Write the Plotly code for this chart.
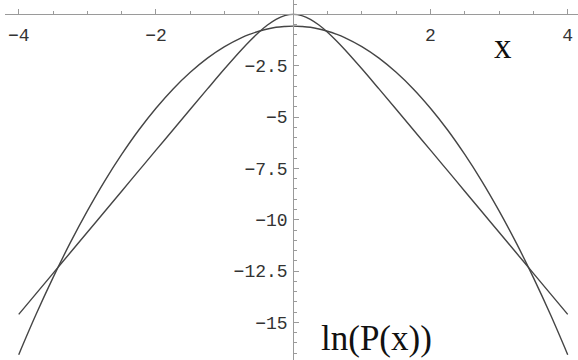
import plotly.graph_objects as go

# sample points along x
x_vals = [-4, -3.75, -3.5, -3.25, -3, -2.75, -2.5, -2.25, -2, -1.75, -1.5, -1.25, -1,
          -0.75, -0.625, -0.5, -0.375, -0.25, -0.125, 0, 0.125, 0.25, 0.375, 0.5, 0.625,
          0.75, 1, 1.25, 1.5, 1.75, 2, 2.25, 2.5, 2.75, 3, 3.25, 3.5, 3.75, 4]

# wide parabola (Gaussian)
gauss_y = [-16.57, -14.63, -12.82, -11.13, -9.57, -8.13, -6.82, -5.63, -4.57, -3.63, -2.82,
           -2.13, -1.57, -1.13, -0.96, -0.82, -0.71, -0.63, -0.59, -0.57, -0.59, -0.63,
           -0.71, -0.82, -0.96, -1.13, -1.57, -2.13, -2.82, -3.63, -4.57, -5.63, -6.82,
           -8.13, -9.57, -11.13, -12.82, -14.63, -16.57]

# narrow peak with straight tails
sech_y = [-14.61, -13.61, -12.61, -11.61, -10.61, -9.61, -8.61, -7.61, -6.61, -5.62, -4.62,
          -3.63, -2.65, -1.71, -1.27, -0.87, -0.52, -0.24, -0.06, 0.0, -0.06, -0.24, -0.52,
          -0.87, -1.27, -1.71, -2.65, -3.63, -4.62, -5.62, -6.61, -7.61, -8.61, -9.61,
          -10.61, -11.61, -12.61, -13.61, -14.61]

x_ticks = [-4, -2, 2, 4]
y_ticks = [-15, -12.5, -10, -7.5, -5, -2.5]

x_range = [-4.2, 4.15]
y_range = [-16.83, 0.70]

curve = dict(color="#454545", width=1.4, shape="spline")
fig = go.Figure()
fig.add_trace(go.Scatter(x=x_vals, y=gauss_y, mode="lines", line=curve))
fig.add_trace(go.Scatter(x=x_vals, y=sech_y, mode="lines", line=curve))

tick_font = dict(family="Liberation Mono", size=18, color="#333333")
axis_col = "#9a9a9a"

fig.update_layout(
    width=578, height=360,
    margin=dict(l=5, r=0, t=0, b=0),
    paper_bgcolor="white", plot_bgcolor="white",
    showlegend=False,
    xaxis=dict(
        range=x_range, showgrid=False, zeroline=False,
        anchor="free", position=(0 - y_range[0]) / (y_range[1] - y_range[0]),
        showline=True, linecolor=axis_col, linewidth=1,
        tickvals=x_ticks, ticks="inside", ticklen=5, tickcolor=axis_col,
        tickfont=tick_font, ticklabelstandoff=4,
        minor=dict(dtick=0.5, tick0=0, ticks="inside", ticklen=3, tickcolor=axis_col),
    ),
    yaxis=dict(
        range=y_range, showgrid=False, zeroline=False,
        anchor="free", position=(0 - x_range[0]) / (x_range[1] - x_range[0]),
        showline=True, linecolor=axis_col, linewidth=1,
        tickvals=y_ticks, ticks="inside", ticklen=5, tickcolor=axis_col,
        tickfont=tick_font, ticklabelstandoff=2,
        minor=dict(dtick=0.5, tick0=0, ticks="inside", ticklen=3, tickcolor=axis_col),
    ),
    annotations=[
        dict(x=3.06, y=-1.55, text="x", showarrow=False, xanchor="center", yanchor="middle",
             font=dict(family="Liberation Serif", size=35, color="#111111")),
        dict(x=1.22, y=-15.76, text="ln(P(x))", showarrow=False, xanchor="center",
             yanchor="middle", font=dict(family="Liberation Serif", size=35, color="#111111")),
    ],
)

# drop the browser's default page margin so the figure sits at the corner
fig.write_html("out.html", config={"displayModeBar": False},
               post_script="document.body.style.margin='0';")
